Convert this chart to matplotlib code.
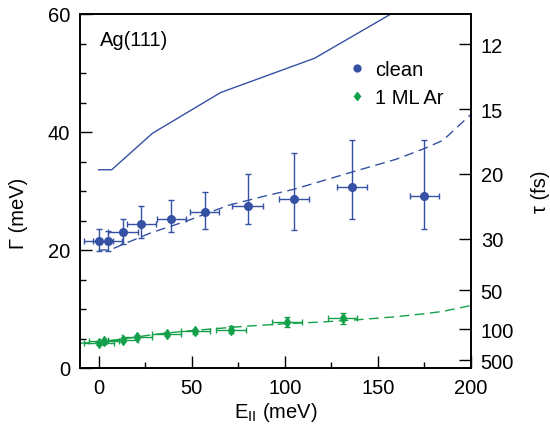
import numpy as np
import matplotlib
matplotlib.use("Agg")
import matplotlib.pyplot as plt
from matplotlib.ticker import MultipleLocator

plt.rcParams["font.family"] = ["Liberation Sans", "DejaVu Sans"]
plt.rcParams["font.size"] = 14.5
plt.rcParams["mathtext.default"] = "regular"

BLUE = "#3551a4"
GREEN = "#14a04a"
HBAR = 658.2  # meV fs

# clean Ag(111): E_par (meV), linewidth (meV), asymmetric errors
clean_e = [0.0, 5.0, 13.0, 23.0, 39.0, 57.0, 80.0, 105.0, 136.0, 175.0]
clean_g = [21.6, 21.6, 23.1, 24.4, 25.3, 26.4, 27.4, 28.6, 30.6, 29.2]
clean_up = [1.9, 1.6, 2.2, 3.0, 3.2, 3.5, 5.5, 7.9, 8.1, 9.5]
clean_dn = [1.7, 1.7, 2.0, 2.4, 2.3, 2.9, 3.0, 5.2, 5.3, 5.7]
clean_xerr = [7.8, 7.8, 8.0, 8.0, 7.8, 7.9, 8.1, 7.9, 8.1, 8.0]

# 1 ML Ar on Ag(111)
ar_e = [0.0, 3.0, 13.0, 20.5, 36.5, 52.0, 71.0, 101.0, 131.0]
ar_g = [4.2, 4.5, 4.8, 5.2, 5.8, 6.2, 6.5, 7.8, 8.4]
ar_yerr = [0.35, 0.35, 0.35, 0.35, 0.35, 0.4, 0.55, 0.8, 0.95]
ar_xerr = [8.0, 8.0, 8.0, 8.0, 8.0, 8.0, 8.0, 8.0, 7.6]

# model curves
solid_e = [0.0, 7.0, 29.0, 65.6, 116.0, 157.0, 210.0]
solid_g = [33.6, 33.6, 39.8, 46.7, 52.5, 60.0, 70.0]
dash_clean_e = [0.0, 6.0, 15.0, 28.0, 48.0, 70.0, 90.0, 105.0, 136.0, 160.0, 175.0, 185.0, 200.0]
dash_clean_g = [20.0, 20.0, 21.2, 22.9, 25.0, 27.6, 29.2, 30.3, 33.2, 35.4, 37.2, 38.6, 43.0]
dash_ar_e = [-10.0, 0.0, 15.0, 30.0, 45.0, 60.0, 80.0, 100.0, 120.0, 140.0, 160.0, 175.0, 185.0, 200.0]
dash_ar_g = [4.2, 4.4, 5.0, 5.7, 6.2, 6.6, 7.1, 7.5, 7.8, 8.2, 8.7, 9.2, 9.6, 10.6]

# right axis: lifetime tau (fs)
tau_ticks = [12, 15, 20, 30, 50, 100, 500]

fig = plt.figure(figsize=(5.5, 4.35), dpi=100)
ax = fig.add_axes([80 / 550, 1 - 369 / 435, 391 / 550, 354 / 435])

ax.plot(solid_e, solid_g, color=BLUE, lw=1.0)
ax.plot(dash_clean_e, dash_clean_g, color=BLUE, lw=1.0, dashes=(7, 4))
ax.plot(dash_ar_e, dash_ar_g, color=GREEN, lw=1.0, dashes=(7, 4))

eb_clean = ax.errorbar(clean_e, clean_g, yerr=[clean_dn, clean_up], xerr=clean_xerr,
                       fmt="o", color=BLUE, ms=5.5, elinewidth=1.0, capsize=2.5,
                       capthick=1.0, label="clean")
eb_ar = ax.errorbar(ar_e, ar_g, yerr=ar_yerr, xerr=ar_xerr,
                    fmt="d", color=GREEN, ms=5, elinewidth=1.0, capsize=2.5,
                    capthick=1.0, label="1 ML Ar")

ax.set_xlim(-10, 200)
ax.set_ylim(0, 60)
ax.xaxis.set_major_locator(MultipleLocator(50))
ax.xaxis.set_minor_locator(MultipleLocator(25))
ax.yaxis.set_major_locator(MultipleLocator(20))
ax.yaxis.set_minor_locator(MultipleLocator(5))
ax.tick_params(which="both", direction="in", top=False, right=False)
ax.tick_params(which="major", length=8.5, width=1.0, pad=7)
ax.tick_params(which="minor", length=4.5, width=1.0)
for sp in ax.spines.values():
    sp.set_linewidth(1.2)

ax.set_xlabel(r"E$_{\rm II}$ (meV)", labelpad=2)
ax.set_ylabel("Γ (meV)")
ax.yaxis.set_label_coords(-0.133, 0.44)
ax.text(0.5, 55.6, "Ag(111)", ha="left", va="center")

ax2 = ax.twinx()
ax2.set_ylim(ax.get_ylim())
ax2.set_yticks([HBAR / t for t in tau_ticks])
ax2.set_yticklabels([str(t) for t in tau_ticks])
ax2.tick_params(direction="in", length=8.5, width=1.0, pad=7)
ax2.set_ylabel("τ (fs)", labelpad=12)
for sp in ax2.spines.values():
    sp.set_linewidth(1.2)

ax.legend(handles=[eb_clean[0], eb_ar[0]], labels=["clean", "1 ML Ar"],
          loc="upper left", bbox_to_anchor=(0.687, 0.871), frameon=False,
          handlelength=0.8, handletextpad=0.5, labelspacing=0.45,
          borderpad=0, borderaxespad=0, markerscale=0.9)

fig.savefig("out.png", dpi=100)
